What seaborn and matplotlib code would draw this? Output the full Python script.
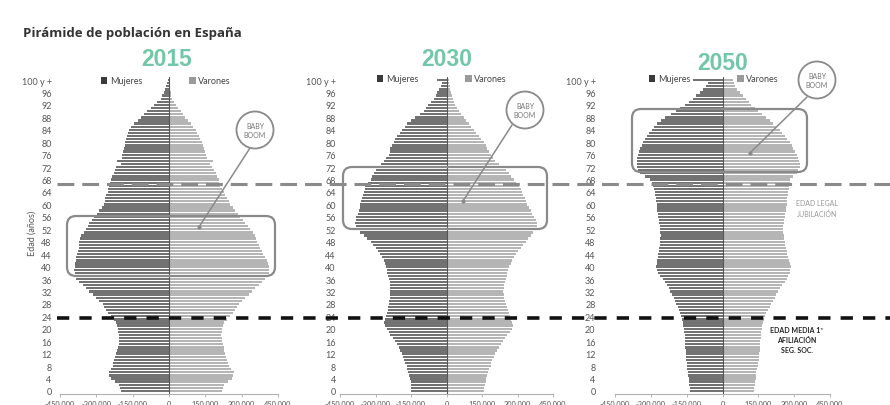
import numpy as np
import pandas as pd
import seaborn as sns
import matplotlib.pyplot as plt
from matplotlib.patches import FancyBboxPatch, Circle
from matplotlib.lines import Line2D
from matplotlib.transforms import blended_transform_factory

# edades 0..100 (100 = "100 y +")
edades = list(range(101))

# poblacion en miles
mujeres_2015 = [199, 203, 208, 222, 238, 247, 246, 238, 233, 230, 226, 222, 219, 215, 212, 208, 205, 206, 208, 210,
                212, 216, 219, 228, 240, 250, 260, 267, 274, 288, 301, 315, 329, 342, 356, 370, 384, 388, 390, 392,
                390, 388, 386, 384, 381, 377, 373, 372, 370, 366, 363, 352, 342, 336, 329, 318, 308, 298, 288, 277,
                267, 265, 263, 259, 253, 250, 247, 244, 240, 234, 226, 222, 219, 200, 216, 196, 192, 190, 185, 183,
                181, 178, 175, 171, 167, 156, 144, 130, 116, 102, 89, 75, 62, 48, 34, 27, 21, 15, 11, 8, 5]
varones_2015 = [219, 222, 226, 243, 260, 266, 267, 256, 247, 243, 240, 236, 233, 229, 226, 222, 219, 217, 216, 217,
                219, 222, 226, 240, 253, 264, 274, 281, 288, 301, 315, 329, 342, 356, 370, 384, 397, 405, 411, 412,
                411, 408, 404, 397, 390, 383, 377, 370, 363, 360, 356, 346, 336, 326, 315, 305, 295, 284, 274, 263,
                253, 246, 240, 233, 226, 219, 212, 208, 205, 198, 192, 185, 178, 170, 180, 158, 151, 148, 144, 140,
                137, 130, 123, 116, 110, 99, 89, 78, 68, 58, 48, 37, 27, 20, 14, 10, 7, 5, 4, 3, 3]

mujeres_2030 = [149, 149, 149, 152, 155, 160, 164, 166, 169, 174, 178, 183, 188, 195, 202, 209, 216, 226, 237, 244,
                251, 258, 265, 258, 254, 251, 248, 246, 244, 242, 240, 238, 237, 237, 237, 240, 244, 248, 251, 252,
                254, 260, 265, 272, 279, 290, 300, 310, 321, 336, 350, 364, 378, 382, 385, 383, 381, 376, 371, 367,
                364, 360, 357, 353, 350, 346, 343, 332, 321, 314, 307, 296, 286, 276, 265, 254, 244, 240, 237, 230,
                223, 216, 209, 198, 188, 177, 166, 148, 131, 113, 96, 88, 79, 66, 54, 46, 39, 31, 23, 18, 39]
varones_2030 = [158, 160, 161, 165, 169, 172, 175, 180, 186, 190, 193, 200, 207, 214, 221, 230, 240, 248, 257, 268,
                278, 279, 278, 272, 268, 263, 259, 254, 250, 246, 243, 241, 240, 241, 243, 246, 250, 254, 257, 260,
                264, 271, 278, 285, 292, 302, 313, 323, 334, 344, 355, 366, 376, 381, 384, 377, 369, 362, 355, 348,
                341, 335, 330, 325, 320, 313, 306, 295, 285, 274, 264, 250, 235, 221, 207, 196, 186, 179, 172, 165,
                158, 147, 137, 126, 116, 105, 94, 84, 73, 62, 52, 45, 38, 33, 28, 24, 20, 16, 13, 11, 10]

mujeres_2050 = [134, 137, 140, 141, 142, 144, 145, 147, 148, 150, 151, 152, 153, 154, 155, 156, 156, 158, 159, 160,
                162, 164, 165, 168, 172, 176, 181, 187, 193, 198, 204, 211, 218, 226, 234, 242, 251, 260, 269, 276,
                279, 276, 273, 271, 269, 267, 265, 263, 262, 260, 259, 260, 262, 263, 265, 267, 269, 271, 273, 274,
                276, 278, 279, 281, 283, 287, 290, 297, 304, 325, 346, 352, 357, 359, 360, 357, 353, 350, 346, 339,
                332, 325, 318, 308, 297, 287, 276, 258, 241, 217, 193, 176, 158, 140, 123, 109, 95, 81, 67, 60, 125]
varones_2050 = [131, 133, 135, 138, 140, 141, 142, 145, 148, 150, 151, 152, 153, 155, 156, 158, 159, 160, 162, 163,
                165, 167, 170, 173, 177, 184, 191, 198, 205, 212, 219, 226, 233, 242, 251, 260, 268, 275, 282, 284,
                285, 282, 279, 275, 271, 268, 265, 263, 261, 259, 257, 255, 254, 255, 257, 259, 261, 263, 265, 266,
                268, 270, 271, 273, 275, 277, 279, 281, 282, 296, 310, 317, 324, 323, 321, 316, 310, 303, 296, 289,
                282, 272, 261, 251, 240, 226, 212, 198, 184, 166, 149, 135, 121, 110, 100, 87, 73, 62, 52, 47, 45]

anios = ["2015", "2030", "2050"]
series = [(mujeres_2015, varones_2015), (mujeres_2030, varones_2030), (mujeres_2050, varones_2050)]

x_ticks = [-450000, -300000, -150000, 0, 150000, 300000, 450000]
x_labels = ["-450.000", "-300.000", "-150.000", "0", "150.000", "300.000", "450.000"]
y_ticks = list(range(0, 101, 4))
y_labels = [str(v) for v in range(0, 97, 4)] + ["100 y +"]

edad_jubilacion = 66.5
edad_afiliacion = 23.5

W, H = 890, 406
sns.set_style("white")
plt.rcParams["font.family"] = ["Lato", "DejaVu Sans"]

fig = plt.figure(figsize=(W / 100, H / 100), dpi=100)

# posiciones de los paneles en pixeles (izquierda, ancho, pad etiquetas y)
paneles = [(60, 218, 6), (340, 213, 3), (615, 215, 14)]
color_muj = "#727272"
color_var = "#b5b5b5"

axes = []
for (muj, var), anio, (left, width, pad) in zip(series, anios, paneles):
    ax = fig.add_axes([left / W, (H - 395) / H, width / W, 317 / H])
    df = pd.DataFrame({
        "edad": edades * 2,
        "poblacion": [-v * 1000 for v in muj] + [v * 1000 for v in var],
        "sexo": ["Mujeres"] * 101 + ["Varones"] * 101,
    })
    sns.barplot(data=df, x="poblacion", y="edad", hue="sexo", orient="y", native_scale=True,
                dodge=False, palette={"Mujeres": color_muj, "Varones": color_var},
                width=0.74, linewidth=0, saturation=1, errorbar=None, ax=ax)
    ax.axvline(0, color="#555555", lw=0.8, zorder=3)
    ax.set_xlim(-450000, 450000)
    ax.set_ylim(-1, 101)
    ax.set_xticks(x_ticks)
    ax.set_xticklabels(x_labels)
    ax.set_yticks(y_ticks)
    ax.set_yticklabels(y_labels)
    ax.set_xlabel("")
    ax.set_ylabel("")
    ax.tick_params(axis="y", length=0, pad=pad, labelsize=6.5, labelcolor="#555555")
    ax.tick_params(axis="x", length=2.5, width=0.6, color="#aaaaaa", pad=1.5, labelsize=5.3,
                   labelcolor="#555555", bottom=True)
    for s in ["left", "right", "top"]:
        ax.spines[s].set_visible(False)
    ax.spines["bottom"].set_color("#b0b0b0")
    ax.spines["bottom"].set_linewidth(0.8)
    ax.patch.set_alpha(0)
    axes.append(ax)

# leyendas
legend_pos = [(166, 82), (442, 80), (714, 80)]
for ax, (lx, ly) in zip(axes, legend_pos):
    sns.move_legend(ax, "center", bbox_to_anchor=(lx / W, 1 - ly / H), bbox_transform=fig.transFigure,
                    ncol=2, frameon=False, title=None, fontsize=6.5, handlelength=0.7, handleheight=0.7,
                    handletextpad=0.3, columnspacing=5.2, borderpad=0, borderaxespad=0)
    leg = ax.get_legend()
    for t in leg.get_texts():
        t.set_color("#444444")
    for h, c in zip(leg.legend_handles, ["#3a3a3a", "#9a9a9a"]):
        h.set_facecolor(c)

# lineas discontinuas a lo ancho de la figura
trans = blended_transform_factory(fig.transFigure, axes[0].transData)
fig.add_artist(Line2D([57 / W, 1], [edad_jubilacion] * 2, transform=trans, color="#8a8a8a",
                      lw=2.2, linestyle=(0, (5.5, 2.6)), zorder=5))
fig.add_artist(Line2D([57 / W, 1], [edad_afiliacion] * 2, transform=trans, color="#111111",
                      lw=2.6, linestyle=(0, (3.4, 2.8)), zorder=5))

# capa de anotaciones en pixeles
ov = fig.add_axes([0, 0, 1, 1], zorder=10)
ov.set_xlim(0, W)
ov.set_ylim(H, 0)
ov.axis("off")
ov.patch.set_alpha(0)

ov.text(23, 33, "Pirámide de población en España", fontsize=9.5, fontweight="bold",
        family=["Open Sans", "DejaVu Sans"], color="#333333", ha="left", va="center")
for anio, (tx, ty) in zip(anios, [(167, 60), (447, 60), (723, 63)]):
    ov.text(tx, ty, anio, fontsize=16.5, fontweight="bold", family=["Liberation Sans", "DejaVu Sans"],
            color="#72c7a8", ha="center", va="center")
ov.text(32, 233, "Edad (años)", rotation=90, fontsize=6.5, color="#555555", ha="center", va="center")

cajas = [(67, 217, 208, 60), (343, 168, 204, 62), (632, 110, 175, 63)]
for x0, y0, w, h in cajas:
    ov.add_patch(FancyBboxPatch((x0, y0), w, h, boxstyle="round,pad=0,rounding_size=9",
                                fill=False, ec="#8a8a8a", lw=1.6))

circulos = [((255, 131), (250, 149), (199, 228)),
            ((525, 111), (512, 126), (463, 202)),
            ((817, 81), (807, 98), (750, 154))]
for (cx, cy), (ax0, ay0), (ax1, ay1) in circulos:
    ov.add_patch(Circle((cx, cy), 18.5, fc="white", ec="#8a8a8a", lw=1.3))
    ov.plot([ax0, ax1], [ay0, ay1], color="#8a8a8a", lw=1.1)
    ov.plot([ax1], [ay1], "o", color="#8a8a8a", ms=2)
    ov.text(cx, cy, "BABY\nBOOM", fontsize=5, color="#777777", ha="center", va="center",
            linespacing=1.3)

ov.text(817, 209, "EDAD LEGAL\nJUBILACIÓN", fontsize=5, color="#999999", ha="center", va="center",
        linespacing=1.5)
ov.text(797, 341, "EDAD MEDIA 1ª\nAFILIACIÓN\nSEG. SOC.", fontsize=5, fontweight="bold",
        color="#222222", ha="center", va="center", linespacing=1.5)

fig.savefig("out.png", dpi=100)
